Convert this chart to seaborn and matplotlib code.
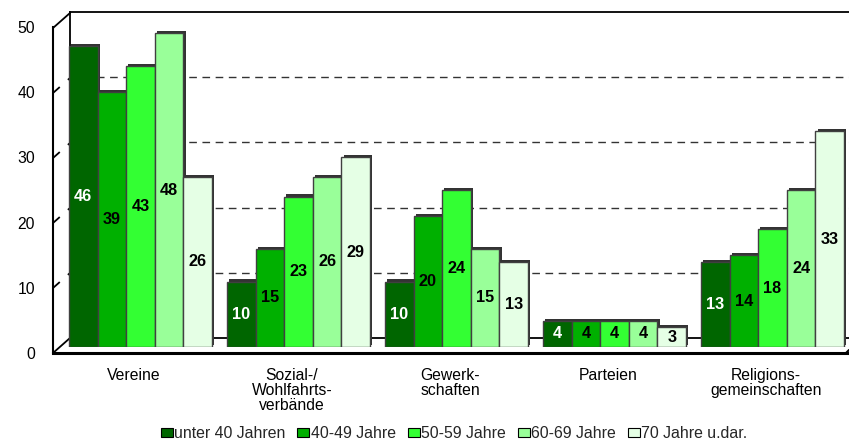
import matplotlib
matplotlib.use("Agg")
import matplotlib.pyplot as plt
import matplotlib.patheffects as pe
from matplotlib.lines import Line2D
from matplotlib.patches import Patch
from matplotlib.transforms import ScaledTranslation
import pandas as pd
import seaborn as sns

# Engagement by age group (percent)
categories = ["Vereine", "Sozial-/\nWohlfahrts-\nverbände", "Gewerk-\nschaften",
              "Parteien", "Religions-\ngemeinschaften"]
age_groups = ["unter 40 Jahren", "40-49 Jahre", "50-59 Jahre", "60-69 Jahre", "70 Jahre u.dar."]
unter_40 = [46, 10, 10, 4, 13]
j40_49 = [39, 15, 20, 4, 14]
j50_59 = [43, 23, 24, 4, 18]
j60_69 = [48, 26, 15, 4, 24]
j70_plus = [26, 29, 13, 3, 33]
series = [unter_40, j40_49, j50_59, j60_69, j70_plus]
colors = ["#006600", "#00B000", "#33FF33", "#99FF99", "#E5FFE5"]
y_ticks = [0, 10, 20, 30, 40, 50]

rows = []
for grp, vals in zip(age_groups, series):
    for cat, v in zip(categories, vals):
        rows.append({"Bereich": cat, "Alter": grp, "Anteil": v})
df = pd.DataFrame(rows)

sns.set_theme(style="white")
plt.rcParams["font.family"] = ["Liberation Sans", "DejaVu Sans"]

W, H = 849, 441
fig = plt.figure(figsize=(W / 100, H / 100), dpi=100)


def box(left, right, top, bottom):
    return [left / W, 1 - bottom / H, (right - left) / W, (bottom - top) / H]


def fx(x):
    return x / W


def fy(y):
    return 1 - y / H


# back wall with dashed grid
ax_back = fig.add_axes(box(70, 849, 12, 338), zorder=0)
ax_back.set_ylim(0, 50)
ax_back.set_xlim(0, 1)
ax_back.set_yticks([10, 20, 30, 40])
ax_back.set_xticks([])
ax_back.tick_params(left=False, labelleft=False)
ax_back.yaxis.grid(True, color="#333333", linestyle=(0, (5.5, 4)), linewidth=1.0)
ax_back.patch.set_alpha(0)
ax_back.spines["right"].set_visible(False)
for side in ["left", "top", "bottom"]:
    ax_back.spines[side].set_color("black")
    ax_back.spines[side].set_linewidth(1.3)

# front frame with the value axis
ax_front = fig.add_axes(box(53, 847, 27, 353), zorder=1)
ax_front.set_ylim(0, 50)
ax_front.set_xlim(0, 1)
ax_front.set_yticks(y_ticks)
ax_front.set_xticks([])
ax_front.tick_params(axis="y", length=0, pad=13, labelsize=11.3, labelcolor="black")
ax_front.patch.set_alpha(0)
ax_front.spines["right"].set_visible(False)
ax_front.spines["top"].set_visible(False)
ax_front.spines["left"].set_color("black")
ax_front.spines["left"].set_linewidth(1.5)
ax_front.spines["bottom"].set_color("black")
ax_front.spines["bottom"].set_linewidth(2.2)

# depth lines joining front and back
for v in y_ticks:
    yf = 353 - 6.5 * v
    yb = 338 - 6.5 * v
    ls = "-" if v in (0, 50) else (0, (5, 6))
    fig.add_artist(Line2D([fx(53), fx(70)], [fy(yf), fy(yb)], color="black",
                          linewidth=1.3, linestyle=ls, zorder=1))
fig.add_artist(Line2D([fx(846), fx(849)], [fy(353), fy(350)], color="black",
                      linewidth=1.5, zorder=1))

# bars
ax = fig.add_axes(box(61.5, 849, 20, 347), zorder=2)
sns.barplot(data=df, x="Bereich", y="Anteil", hue="Alter", hue_order=age_groups,
            order=categories, palette=colors, width=0.905, saturation=1,
            edgecolor="#404040", linewidth=1.0, legend=False, ax=ax)
ax.set_ylim(0, 50)
ax.set_xlim(-0.5, -0.5 + (849 - 61.5) / 158)
ax.patch.set_alpha(0)
for s in ax.spines.values():
    s.set_visible(False)
ax.set_yticks([])
ax.set_xlabel("")
ax.set_ylabel("")
ax.tick_params(axis="x", length=0, pad=15, labelsize=11.3, labelcolor="black")
ax.set_xticks(range(len(categories)))
ax.set_xticklabels(categories, linespacing=1.0, va="top")
shift = ScaledTranslation(-6.5 / 100, 0, fig.dpi_scale_trans)
for lab in ax.get_xticklabels():
    lab.set_transform(lab.get_transform() + shift)

for i, cont in enumerate(ax.containers):
    for bar in cont:
        bar.set_path_effects([pe.SimplePatchShadow(offset=(1.6, 1.6), shadow_rgbFace="#333333",
                                                   alpha=1.0),
                              pe.Normal()])
    ax.bar_label(cont, labels=[str(v) for v in series[i]], label_type="center",
                 color="white" if i == 0 else "black", fontweight="bold", fontsize=11.7)

handles = [Patch(facecolor=c, edgecolor="black", linewidth=0.8) for c in colors]
fig.legend(handles, age_groups, loc="center", bbox_to_anchor=(fx(454), fy(434)), ncol=5,
           frameon=False, handlelength=0.76, handleheight=0.5, handletextpad=0.08,
           columnspacing=0.76, fontsize=11.4, borderaxespad=0, borderpad=0)

fig.savefig("out.png", dpi=100)
